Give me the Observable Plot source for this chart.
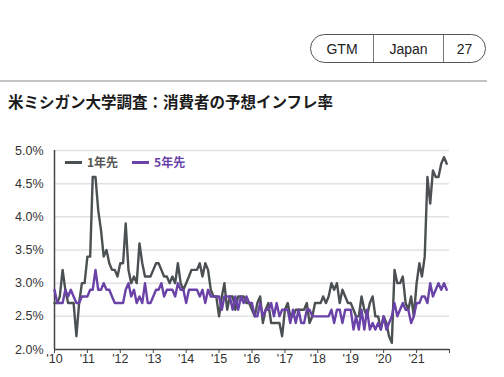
<!DOCTYPE html>
<html><head><meta charset="utf-8">
<script src="https://cdn.jsdelivr.net/npm/d3@7"></script>
<script src="https://cdn.jsdelivr.net/npm/@observablehq/plot@0.6"></script>
<style>
body{margin:0;background:#fff;}
#wrap{position:relative;width:504px;height:377px;overflow:hidden;font-family:"Liberation Sans",Arial,sans-serif;}
#badge{position:absolute;left:310px;top:34px;width:176px;height:29px;border:1px solid #555;border-radius:15px;display:flex;font-size:14px;color:#222;box-sizing:border-box;}
#badge div{display:flex;align-items:center;justify-content:center;height:100%;}
#rule{position:absolute;left:0;top:80px;width:487px;height:2px;background:#c4c4c4;}
#title{position:absolute;left:8px;top:91px;font-family:"Noto Sans CJK JP",sans-serif;font-weight:bold;font-size:15.5px;color:#1a1a1a;line-height:20px;white-space:nowrap;}
#chart{position:absolute;left:0;top:140px;}
#legend{position:absolute;left:65px;top:154px;font-family:"Noto Sans CJK JP",sans-serif;font-weight:bold;font-size:12px;display:flex;align-items:center;line-height:16px;}
.sw{display:inline-block;width:17px;height:3px;margin-right:5px;}
</style></head>
<body><div id="wrap">
<div id="badge"><div style="width:62px;border-right:1px solid #777">GTM</div><div style="width:69px;border-right:1px solid #777">Japan</div><div style="flex:1">27</div></div>
<div id="rule"></div>
<div id="title">米ミシガン大学調査：消費者の予想インフレ率</div>
<div id="chart"></div>
<div id="legend"></div>
</div>
<script>
const seriesNames = ["1年先", "5年先"];
const seriesColors = ["#4b5052", "#6a42a8"];
const yTicks = [2.0, 2.5, 3.0, 3.5, 4.0, 4.5, 5.0];
const yearLabels = ["'10","'11","'12","'13","'14","'15","'16","'17","'18","'19","'20","'21"];
// monthly, Jan 2010 - Dec 2021
const oneYear = [
 2.7,2.7,2.8,3.2,2.9,2.7,2.7,2.7,2.2,2.7,3.0,3.0,
 3.4,3.4,4.6,4.6,4.1,3.8,3.4,3.5,3.3,3.2,3.2,3.1,
 3.3,3.3,3.9,3.2,3.0,3.1,3.0,3.6,3.3,3.1,3.1,3.1,
 3.2,3.3,3.3,3.2,3.1,3.1,3.0,3.1,3.0,3.3,3.0,2.9,
 3.0,3.1,3.2,3.2,3.2,3.3,3.1,3.3,3.2,2.9,2.8,2.8,
 2.5,2.8,3.0,2.6,2.8,2.8,2.6,2.8,2.8,2.8,2.7,2.7,
 2.6,2.5,2.7,2.8,2.4,2.6,2.7,2.4,2.4,2.4,2.4,2.2,
 2.6,2.7,2.5,2.5,2.6,2.6,2.6,2.6,2.7,2.4,2.5,2.7,
 2.7,2.7,2.8,2.7,2.8,3.0,2.9,3.0,2.7,2.9,2.8,2.7,
 2.7,2.6,2.5,2.5,2.8,2.6,2.5,2.7,2.8,2.5,2.5,2.3,
 2.5,2.4,2.2,2.1,3.2,3.0,3.0,3.1,2.7,2.6,2.8,2.5,
 3.0,3.3,3.1,3.4,4.6,4.2,4.7,4.6,4.6,4.8,4.9,4.8
];
const fiveYear = [
 2.9,2.7,2.7,2.7,2.9,2.8,2.9,2.8,2.7,2.7,2.8,2.8,
 2.8,2.9,2.9,3.2,2.9,2.9,3.0,2.9,2.9,2.8,2.7,2.7,
 2.7,2.7,2.9,3.0,2.8,2.9,2.7,2.8,2.7,3.0,2.7,2.7,
 2.8,2.9,2.9,3.0,2.8,2.9,2.9,2.9,2.8,3.0,2.9,2.9,
 2.7,2.9,2.9,2.9,2.9,2.8,2.9,2.7,2.9,2.8,2.8,2.8,
 2.8,2.6,2.8,2.8,2.8,2.6,2.8,2.6,2.8,2.7,2.8,2.7,
 2.7,2.5,2.5,2.7,2.5,2.6,2.6,2.7,2.5,2.7,2.5,2.6,
 2.6,2.6,2.4,2.6,2.4,2.6,2.4,2.4,2.6,2.6,2.5,2.5,
 2.5,2.5,2.5,2.5,2.5,2.6,2.4,2.6,2.6,2.4,2.6,2.6,
 2.6,2.3,2.5,2.3,2.6,2.3,2.6,2.3,2.4,2.3,2.4,2.3,
 2.5,2.3,2.4,2.5,2.7,2.5,2.6,2.7,2.6,2.6,2.4,2.5,
 2.7,2.7,2.8,2.8,2.7,3.0,2.8,2.9,3.0,2.9,3.0,2.9
];

const months = oneYear.map((_, i) => new Date(Date.UTC(2010, i, 1)));
const rows = [];
months.forEach((d, i) => {
  rows.push({date: d, value: oneYear[i], series: seriesNames[0]});
});
const rows5 = months.map((d, i) => ({date: d, value: fiveYear[i], series: seriesNames[1]}));
const yearTicks = d3.range(2010, 2023).map(y => new Date(Date.UTC(y, 0, 1)));

const chart = Plot.plot({
  width: 504, height: 230,
  marginLeft: 54, marginRight: 55, marginTop: 10, marginBottom: 21,
  style: {fontFamily: "'Liberation Sans', Arial, sans-serif", fontSize: "12.5px", color: "#333", background: "transparent"},
  x: {type: "utc", domain: [yearTicks[0], yearTicks[yearTicks.length - 1]]},
  y: {domain: [2, 5]},
  marks: [
    Plot.ruleY(yTicks.slice(1), {stroke: "#e2e2e2", strokeWidth: 1.5}),
    Plot.axisY({ticks: yTicks, tickFormat: d => d.toFixed(1) + "%", tickSize: 0, tickPadding: 11, label: null, fill: "#333"}),
    Plot.axisX({ticks: yearTicks, tickFormat: (d, i) => i < yearLabels.length ? yearLabels[i] : "", tickSize: 4, tickPadding: 1, label: null, stroke: "#444", fill: "#333"}),
    Plot.ruleX([yearTicks[0]], {stroke: "#444", strokeWidth: 1.5}),
    Plot.ruleY([2], {stroke: "#444", strokeWidth: 1.5}),
    Plot.lineY(rows, {x: "date", y: "value", stroke: seriesColors[0], strokeWidth: 2.4}),
    Plot.lineY(rows5, {x: "date", y: "value", stroke: seriesColors[1], strokeWidth: 2.4})
  ]
});
document.getElementById("chart").appendChild(chart);

const lg = document.getElementById("legend");
seriesNames.forEach((n, i) => {
  const s = document.createElement("span");
  s.style.display = "inline-flex"; s.style.alignItems = "center";
  s.style.marginRight = "14px";
  s.innerHTML = `<span class="sw" style="background:${seriesColors[i]}"></span><span style="color:${i === 0 ? '#555' : seriesColors[i]}">${n}</span>`;
  lg.appendChild(s);
});
</script>
</body></html>
